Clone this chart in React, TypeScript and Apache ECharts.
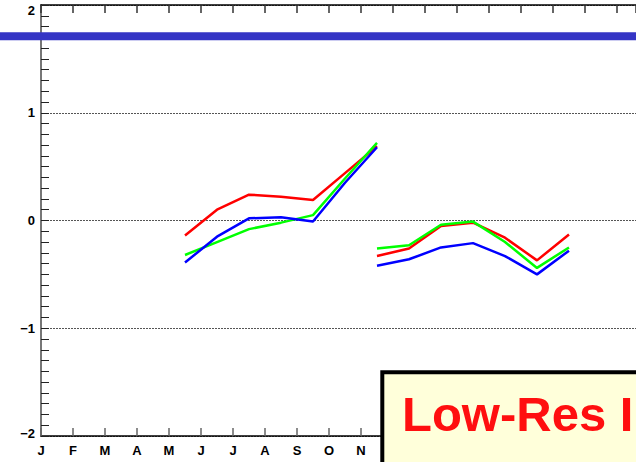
import React, { useEffect, useRef } from "react";
import * as echarts from "echarts";

// Month initials for the time axis (month starts at integer positions)
const monthLetters = ["J", "F", "M", "A", "M", "J", "J", "A", "S", "O", "N", "D"];

// Mid-month positions of the two plotted periods
const periodAMonths = [4.5, 5.5, 6.5, 7.5, 8.5, 9.5, 10.5];
const periodBMonths = [10.5, 11.5, 12.5, 13.5, 14.5, 15.5, 16.5];

// Anomalies, first period
const redA = [-0.14, 0.1, 0.24, 0.22, 0.19, 0.44, 0.69];
const greenA = [-0.32, -0.2, -0.08, -0.02, 0.05, 0.39, 0.72];
const blueA = [-0.39, -0.15, 0.02, 0.03, -0.01, 0.35, 0.68];

// Anomalies, second period
const redB = [-0.33, -0.26, -0.05, -0.02, -0.16, -0.37, -0.13];
const greenB = [-0.26, -0.23, -0.04, -0.01, -0.2, -0.44, -0.25];
const blueB = [-0.42, -0.36, -0.25, -0.21, -0.33, -0.5, -0.28];

// Horizontal reference level
const referenceLevel = 1.71;

// Visible time window, in months from the first January
const monthMin = 0;
const monthMax = 18.59375;

const boxTitle = "Low-Res I";

const FONT = "'Liberation Sans', Arial, sans-serif";

const pairs = (xs: number[], ys: number[]) => xs.map((x, i) => [x, ys[i]]);

const lineSeries = (xs: number[], ys: number[], color: string, z: number) => ({
  type: "line",
  data: pairs(xs, ys),
  showSymbol: false,
  symbol: "none",
  lineStyle: { color, width: 2.5 },
  z,
  silent: true,
});

const monthLabel = (v: number) =>
  Math.abs(v - Math.round(v)) > 1e-6 ? "" : monthLetters[((Math.round(v) % 12) + 12) % 12];

export default function App() {
  const ref = useRef<HTMLDivElement>(null);

  useEffect(() => {
    if (!ref.current) return;
    const chart = echarts.init(ref.current, undefined, { renderer: "svg" });
    chart.setOption({
      animation: false,
      backgroundColor: "#ffffff",
      grid: { left: 41, right: 0, top: 5, bottom: 26 },
      xAxis: [
        {
          type: "value",
          position: "bottom",
          min: monthMin,
          max: monthMax,
          interval: 1,
          axisLine: { show: true, onZero: false, lineStyle: { color: "#000", width: 1.5 } },
          axisTick: { show: true, inside: true, length: 8, lineStyle: { color: "#666", width: 1.5 } },
          axisLabel: {
            show: true,
            margin: 8,
            color: "#000",
            fontFamily: FONT,
            fontWeight: "bold",
            fontSize: 13,
            showMaxLabel: false,
            formatter: monthLabel,
          },
          splitLine: { show: false },
        },
        {
          type: "value",
          position: "top",
          min: monthMin,
          max: monthMax,
          interval: 1,
          axisLine: { show: true, onZero: false, lineStyle: { color: "#000", width: 1.5 } },
          axisTick: { show: true, inside: true, length: 8, lineStyle: { color: "#333", width: 1.5 } },
          axisLabel: { show: false },
          splitLine: { show: false },
        },
      ],
      yAxis: {
        type: "value",
        min: -2,
        max: 2,
        interval: 1,
        axisLine: { show: true, onZero: false, lineStyle: { color: "#777", width: 2 } },
        axisTick: { show: true, inside: true, length: 8, lineStyle: { color: "#222", width: 1 } },
        minorTick: { show: true, splitNumber: 10, length: 8, lineStyle: { color: "#222", width: 1 } },
        axisLabel: {
          show: true,
          margin: 6,
          color: "#000",
          fontFamily: FONT,
          fontWeight: "bold",
          fontSize: 13,
          formatter: (v: number) => {
            const s = String(v).replace("-", "\u2212");
            if (v === 2) return "{top|" + s + "}";
            if (v === -2) return "{bot|" + s + "}";
            return s;
          },
          rich: {
            top: { padding: [10, 0, 0, 0], fontFamily: FONT, fontWeight: "bold", fontSize: 13, color: "#000" },
            bot: { padding: [0, 0, 5, 0], fontFamily: FONT, fontWeight: "bold", fontSize: 13, color: "#000" },
          },
        },
        splitLine: { show: true, lineStyle: { color: "#555", width: 1, type: [2, 1] } },
      },
      series: [
        lineSeries(periodAMonths, redA, "#ff0000", 3),
        lineSeries(periodAMonths, greenA, "#00ff00", 4),
        lineSeries(periodAMonths, blueA, "#0000ff", 5),
        lineSeries(periodBMonths, redB, "#ff0000", 3),
        lineSeries(periodBMonths, greenB, "#00ff00", 4),
        lineSeries(periodBMonths, blueB, "#0000ff", 5),
      ],
    });

    const yRef = chart.convertToPixel({ yAxisIndex: 0 }, referenceLevel) as number;
    const w = chart.getWidth();

    chart.setOption({
      graphic: [
        {
          type: "line",
          z: 100,
          silent: true,
          shape: { x1: 0, y1: yRef, x2: w, y2: yRef },
          style: { stroke: "#3535c5", lineWidth: 8 },
        },
        {
          type: "rect",
          z: 110,
          silent: true,
          shape: { x: 382.3, y: 372.3, width: 420, height: 200 },
          style: { fill: "#ffffda", stroke: "#000", lineWidth: 4 },
        },
        {
          type: "text",
          z: 120,
          silent: true,
          x: 402,
          y: 414,
          style: {
            text: boxTitle,
            fill: "#ff0f0f",
            font: "bold 49px " + FONT,
            verticalAlign: "middle",
            align: "left",
          },
        },
      ],
    });

    return () => chart.dispose();
  }, []);

  return (
    <div
      style={{
        position: "absolute",
        left: 0,
        top: 0,
        width: 636,
        height: 462,
        overflow: "hidden",
        background: "#fff",
      }}
    >
      <div ref={ref} style={{ width: 636, height: 462 }} />
    </div>
  );
}
